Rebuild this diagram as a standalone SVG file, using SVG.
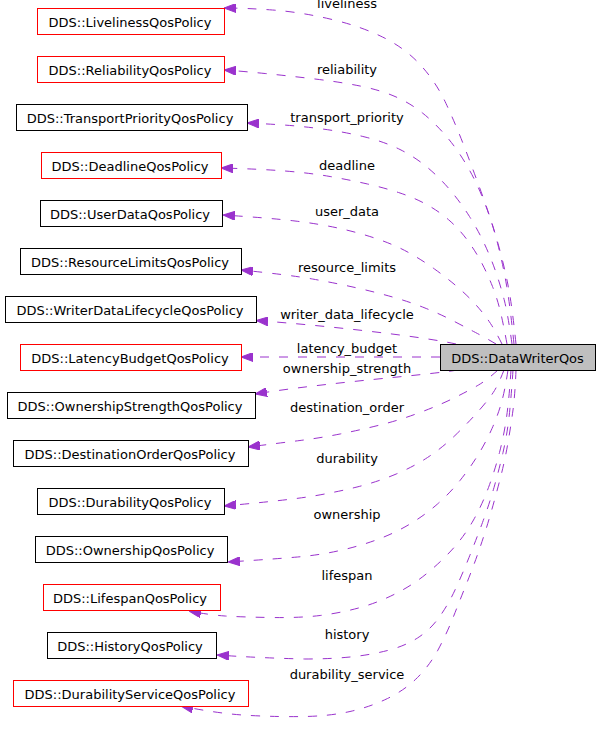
<svg xmlns="http://www.w3.org/2000/svg" width="600" height="735" viewBox="0 0 600 735">
<defs>
<style>
.box{fill:#ffffff;stroke:#000000;stroke-width:1}
.red{fill:#ffffff;stroke:#ff0000;stroke-width:1}
.main{fill:#bfbfbf;stroke:#000000;stroke-width:1}
text{font-family:"DejaVu Sans","Liberation Sans",sans-serif;font-size:13px;fill:#000000;text-anchor:middle}
.edge{fill:none;stroke:#9a32cd;stroke-width:1;stroke-dasharray:9,10;marker-end:url(#arr)}
</style>
<marker id="arr" markerUnits="userSpaceOnUse" markerWidth="12" markerHeight="9" refX="12" refY="4.5" orient="auto">
<path d="M0,0 L12,4.5 L0,9 z" fill="#9a32cd" stroke="#9a32cd" stroke-width="1"/>
</marker>
</defs>
<rect width="600" height="735" fill="#ffffff"/>
<g id="connectors">
<path class="edge" d="M516,344 Q512,305 508,285 Q504,265 498,243.5 Q492,222 483,197 Q474,172 465,148.5 Q456,125 446,103.5 Q436,82 420.5,65 Q405,48 382.5,37 Q360,26 330,19 Q300,12 272.5,10 Q245,8 224,8"/>
<path class="edge" d="M514,344 Q510,305 506.5,285 Q503,265 498,245 Q493,225 485.5,205 Q478,185 468,167.5 Q458,150 446.5,136.5 Q435,123 422.5,113 Q410,103 395,96.5 Q380,90 360,86 Q340,82 315,79 Q290,76 265,73.5 Q240,71 224,70"/>
<path class="edge" d="M512,344 Q508,315 504.5,301 Q501,287 496,272.5 Q491,258 484.5,244 Q478,230 469.5,216.5 Q461,203 450.5,190.5 Q440,178 427.5,167.5 Q415,157 400,149.5 Q385,142 365,137 Q345,132 322.5,129 Q300,126 280,124.75 Q260,123.5 247,123"/>
<path class="edge" d="M507,344 Q503,322 500,310 Q497,298 492.5,286.5 Q488,275 482,263.5 Q476,252 468,241 Q460,230 450,221 Q440,212 427.5,205 Q415,198 400,193 Q385,188 367.5,184 Q350,180 330,176.5 Q310,173 285,171 Q260,169 221,168"/>
<path class="edge" d="M502,344 Q496,332 490.5,323.5 Q485,315 476.5,305.5 Q468,296 457.5,287 Q447,278 434.5,269 Q422,260 408.5,252.5 Q395,245 377.5,239 Q360,233 340,228.5 Q320,224 295,221 Q270,218 223,215"/>
<path class="edge" d="M496,344 Q486,338 475.5,332.5 Q465,327 452.5,320.5 Q440,314 425,308 Q410,302 392.5,297 Q375,292 355,287.5 Q335,283 312.5,279 Q290,275 241,270"/>
<path class="edge" d="M456,344 C420,336 320,325 256,320.5"/>
<path class="edge" d="M440,357 L241,357"/>
<path class="edge" d="M458,370 C420,376 330,382 255,394"/>
<path class="edge" d="M498,370 Q487,380 478.5,385 Q470,390 455,397.5 Q440,405 420,412.5 Q400,420 380,425 Q360,430 340,434 Q320,438 300,440.5 Q280,443 248,447"/>
<path class="edge" d="M504,370 Q499,383 494.5,390.5 Q490,398 479,410.5 Q468,423 455,435.5 Q442,448 427.5,457.5 Q413,467 395,474.5 Q377,482 357,487 Q337,492 313.5,496 Q290,500 224,506"/>
<path class="edge" d="M508,370 Q505,390 501.5,402.5 Q498,415 492,428.5 Q486,442 478,455 Q470,468 460,480.5 Q450,493 437.5,504 Q425,515 410,524 Q395,533 377.5,539.5 Q360,546 340,550.5 Q320,555 297.5,557 Q275,559 228,562"/>
<path class="edge" d="M511,370 Q509,400 506.5,417.5 Q504,435 499.5,452.5 Q495,470 488.5,487.5 Q482,505 473.5,520 Q465,535 454,547.5 Q443,560 428,572.5 Q413,585 395,594 Q377,603 358.5,608 Q340,613 320,615.5 Q300,618 270,617.5 Q240,617 225,616 Q210,615 189,611"/>
<path class="edge" d="M513,370 Q511,400 509,417.5 Q507,435 503,452.5 Q499,470 494,487.5 Q489,505 482.5,522.5 Q476,540 469,557.5 Q462,575 455,590 Q448,605 439,617.5 Q430,630 417.5,638 Q405,646 387.5,650.5 Q370,655 350,657 Q330,659 305,659 Q260,658 217,655"/>
<path class="edge" d="M516,370 Q515,395 513,410 Q511,425 508,442.5 Q505,460 500.5,477.5 Q496,495 491,512.5 Q486,530 480,547.5 Q474,565 467,582.5 Q460,600 453.5,616.5 Q447,633 438.5,649 Q430,665 417.5,677.5 Q405,690 387.5,698.5 Q370,707 350,711.5 Q330,716 305,716.5 Q280,717 250,715.5 Q220,714 181,706"/>
<text x="347" y="8">liveliness</text>
<text x="347" y="74">reliability</text>
<text x="347" y="122">transport_priority</text>
<text x="347" y="170">deadline</text>
<text x="347" y="216">user_data</text>
<text x="347" y="272">resource_limits</text>
<text x="347" y="319">writer_data_lifecycle</text>
<text x="347" y="353">latency_budget</text>
<text x="347" y="373">ownership_strength</text>
<text x="347" y="412">destination_order</text>
<text x="347" y="463">durability</text>
<text x="347" y="519">ownership</text>
<text x="347" y="580">lifespan</text>
<text x="347" y="639">history</text>
<text x="347" y="679">durability_service</text>
</g>
<g id="DataWriterQos"><rect class="main" x="440.5" y="344.5" width="155" height="26"/><text x="517.5" y="362.5">DDS::DataWriterQos</text></g>
<g id="LivelinessQosPolicy"><rect class="red" x="37.5" y="8.5" width="187" height="26"/><text x="130" y="26.5">DDS::LivelinessQosPolicy</text></g>
<g id="ReliabilityQosPolicy"><rect class="red" x="37.5" y="56.5" width="187" height="26"/><text x="130" y="74.5">DDS::ReliabilityQosPolicy</text></g>
<g id="TransportPriorityQosPolicy"><rect class="box" x="16.5" y="104.5" width="231" height="26"/><text x="130" y="122.5">DDS::TransportPriorityQosPolicy</text></g>
<g id="DeadlineQosPolicy"><rect class="red" x="41.5" y="152.5" width="180" height="26"/><text x="130" y="170.5">DDS::DeadlineQosPolicy</text></g>
<g id="UserDataQosPolicy"><rect class="box" x="40.5" y="200.5" width="182" height="26"/><text x="130" y="218.5">DDS::UserDataQosPolicy</text></g>
<g id="ResourceLimitsQosPolicy"><rect class="box" x="20.5" y="248.5" width="221" height="26"/><text x="130" y="266.5">DDS::ResourceLimitsQosPolicy</text></g>
<g id="WriterDataLifecycleQosPolicy"><rect class="box" x="5.5" y="296.5" width="251" height="26"/><text x="130" y="314.5">DDS::WriterDataLifecycleQosPolicy</text></g>
<g id="LatencyBudgetQosPolicy"><rect class="red" x="20.5" y="344.5" width="221" height="26"/><text x="130" y="362.5">DDS::LatencyBudgetQosPolicy</text></g>
<g id="OwnershipStrengthQosPolicy"><rect class="box" x="7.5" y="392.5" width="248" height="26"/><text x="130" y="410.5">DDS::OwnershipStrengthQosPolicy</text></g>
<g id="DestinationOrderQosPolicy"><rect class="box" x="13.5" y="440.5" width="235" height="26"/><text x="130" y="458.5">DDS::DestinationOrderQosPolicy</text></g>
<g id="DurabilityQosPolicy"><rect class="box" x="37.5" y="488.5" width="187" height="26"/><text x="130" y="506.5">DDS::DurabilityQosPolicy</text></g>
<g id="OwnershipQosPolicy"><rect class="box" x="35.5" y="536.5" width="192" height="26"/><text x="130" y="554.5">DDS::OwnershipQosPolicy</text></g>
<g id="LifespanQosPolicy"><rect class="red" x="43.5" y="584.5" width="177" height="26"/><text x="130" y="602.5">DDS::LifespanQosPolicy</text></g>
<g id="HistoryQosPolicy"><rect class="box" x="47.5" y="632.5" width="169" height="26"/><text x="130" y="650.5">DDS::HistoryQosPolicy</text></g>
<g id="DurabilityServiceQosPolicy"><rect class="red" x="13.5" y="680.5" width="235" height="26"/><text x="130" y="698.5">DDS::DurabilityServiceQosPolicy</text></g>
</svg>
